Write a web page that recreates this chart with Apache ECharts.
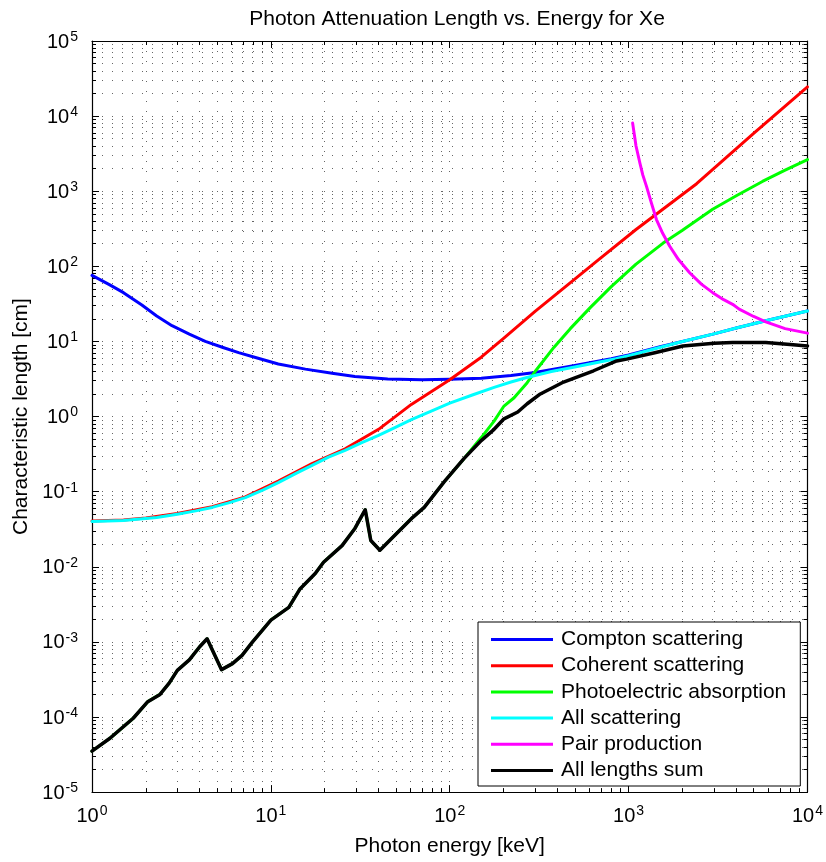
<!DOCTYPE html>
<html><head><meta charset="utf-8">
<script src="https://cdn.jsdelivr.net/npm/echarts@6/dist/echarts.min.js"></script>
<style>html,body{margin:0;padding:0;background:#fff}#c{width:826px;height:862px}</style>
</head><body><div id="c"></div>
<script>
// ---------- data ----------
const titleText = 'Photon Attenuation Length vs. Energy for Xe';
const xName = 'Photon energy [keV]';
const yName = 'Characteristic length [cm]';
const seriesNames = ['Compton scattering','Coherent scattering','Photoelectric absorption','All scattering','Pair production','All lengths sum'];
const seriesColors = ['#0000ff','#ff0000','#00ff00','#00ffff','#ff00ff','#000000'];

const xMajorTicks = [1, 10, 100, 1000, 10000];
const yMajorTicks = [1e-5, 1e-4, 1e-3, 1e-2, 1e-1, 1, 10, 100, 1000, 1e4, 1e5];
const minorMultipliers = [2, 3, 4, 5, 6, 7, 8, 9];

const comptonE = [1, 1.25, 1.5, 1.9, 2.3, 2.8, 3.5, 4.3, 5.4, 6.6, 8.2, 11, 15.6, 22, 29.5, 45, 70, 100, 150, 220, 300, 500, 800, 1000, 1500, 2000, 3000, 4000, 6000, 10000];
const comptonL = [75.7, 57.0, 44.6, 30.5, 21.8, 16.2, 12.5, 10.0, 8.30, 7.10, 6.11, 5.01, 4.28, 3.76, 3.42, 3.16, 3.08, 3.13, 3.24, 3.51, 3.86, 4.79, 5.89, 6.60, 8.5, 10.0, 12.6, 15.1, 19.1, 25.4];

const coherentE = [1, 1.5, 2, 3, 4.7, 7.2, 11, 17, 26, 40, 61, 100, 150, 200, 300, 500, 664, 1100, 2400, 5000, 10000];
const coherentL = [0.0407, 0.0420, 0.0447, 0.0513, 0.0631, 0.0851, 0.138, 0.237, 0.372, 0.676, 1.45, 3.09, 6.17, 11.0, 25.1, 67.6, 117, 309, 1259, 5890, 24500];

const photoE = [1, 1.26, 1.7, 2.05, 2.4, 2.7, 3.0, 3.5, 4.0, 4.4, 5.3, 6.1, 6.9, 7.9, 9.0, 10, 12.6, 14.5, 17.7, 19.7, 25, 29.5, 33.7, 36.2, 40.7, 47, 61, 72, 93, 120, 150, 177, 201, 229, 271, 300, 382, 472, 610, 800, 1100, 1560, 2000, 2950, 4000, 5600, 7500, 10000];
const photoL = [3.51e-5, 5.21e-5, 9.62e-5, 1.60e-4, 2.00e-4, 2.82e-4, 4.17e-4, 5.75e-4, 8.61e-4, 1.10e-3, 4.27e-4, 5.13e-4, 6.61e-4, 1.00e-3, 1.45e-3, 1.95e-3, 2.88e-3, 5.01e-3, 8.13e-3, 1.15e-2, 1.91e-2, 3.24e-2, 5.75e-2, 2.24e-2, 1.66e-2, 2.34e-2, 4.37e-2, 6.17e-2, 0.135, 0.275, 0.525, 0.871, 1.38, 1.78, 2.82, 3.98, 8.32, 14.8, 28.2, 53.7, 107, 204, 302, 575, 871, 1349, 1905, 2630];

const scatterE = [1, 1.5, 2.3, 3, 3.8, 4.7, 5.8, 7.2, 9, 11, 14, 17, 21, 26, 32, 40, 50, 61, 80, 100, 135, 177, 220, 270, 370, 500, 850, 1000, 1400, 2000, 3000, 4000, 6000, 10000];
const scatterL = [0.0401, 0.0412, 0.0452, 0.0501, 0.0555, 0.0617, 0.0708, 0.0832, 0.105, 0.132, 0.178, 0.224, 0.288, 0.355, 0.447, 0.562, 0.724, 0.912, 1.20, 1.51, 1.95, 2.45, 2.88, 3.31, 3.98, 4.57, 5.89, 6.46, 8.0, 10.0, 12.6, 15.1, 19.1, 25.4];

const pairE = [1053, 1100, 1156, 1200, 1259, 1340, 1431, 1550, 1698, 1900, 2193, 2550, 2953, 3400, 3815, 4150, 5000, 5845, 7500, 10000];
const pairL = [8072, 4000, 2377, 1650, 1161, 700, 420, 275, 185, 123, 82.2, 58, 44.6, 36, 31.2, 26.9, 21.5, 18.2, 14.8, 12.9];

const sumE = [1, 1.26, 1.7, 2.05, 2.4, 2.7, 3.0, 3.5, 4.0, 4.4, 5.3, 6.1, 6.9, 7.9, 9.0, 10, 12.6, 14.5, 17.7, 19.7, 25, 29.5, 33.7, 36.2, 40.7, 47, 61, 72, 93, 120, 150, 177, 201, 240, 271, 321, 433, 637, 857, 975, 1400, 2013, 3000, 3815, 5845, 8000, 10000];
const sumL = [3.51e-5, 5.21e-5, 9.62e-5, 1.60e-4, 2.00e-4, 2.82e-4, 4.17e-4, 5.75e-4, 8.61e-4, 1.10e-3, 4.27e-4, 5.13e-4, 6.61e-4, 1.00e-3, 1.45e-3, 1.95e-3, 2.88e-3, 5.01e-3, 8.13e-3, 1.15e-2, 1.91e-2, 3.24e-2, 5.75e-2, 2.24e-2, 1.66e-2, 2.34e-2, 4.37e-2, 6.17e-2, 0.135, 0.275, 0.479, 0.676, 0.933, 1.15, 1.48, 2.00, 2.88, 4.07, 5.50, 5.82, 7.08, 8.71, 9.44, 9.66, 9.66, 9.12, 8.71];

// ---------- helpers ----------
const FONT = "'Liberation Sans', Arial, Helvetica, sans-serif";
function zip(a, b) { return a.map((v, i) => [v, b[i]]); }
function minorTicks(majors) {
  const out = [];
  for (let i = 0; i < majors.length - 1; i++) for (const m of minorMultipliers) out.push(majors[i] * m);
  return out;
}
const xMinorTicks = minorTicks(xMajorTicks);
const yMinorTicks = minorTicks(yMajorTicks);
const gridLine = { show: true, lineStyle: { color: '#666', width: 1, type: [1, 9] } };
const rich = {
  b: { fontSize: 20, fontFamily: FONT, color: '#000', lineHeight: 22, verticalAlign: 'bottom' },
  s: { fontSize: 14, fontFamily: FONT, color: '#000', lineHeight: 14, verticalAlign: 'top', padding: [0, 0, 13, 1] }
};
function powLabel(v) {
  const e = Math.round(Math.log10(v));
  return '{b|10}{s|' + (e < 0 ? '-' + (-e) : e) + '}';
}
function axis(pos, min, max, majors, minors, isMajor, extra) {
  const a = {
    type: 'log', logBase: 10, min: min, max: max, position: pos,
    axisLine: { show: isMajor, onZero: false, lineStyle: { color: '#000', width: 1.2 } },
    axisTick: { show: true, inside: true, length: isMajor ? 7 : 4, customValues: isMajor ? majors : minors, lineStyle: { color: '#000', width: 1 } },
    axisLabel: { show: false },
    splitLine: { show: false }
  };
  return Object.assign(a, extra || {});
}
const nameStyle = { fontSize: 21, fontFamily: FONT, color: '#000' };

const xAxes = [
  axis('bottom', 1, 1e4, xMajorTicks, xMinorTicks, true, {
    axisLabel: { show: true, customValues: xMajorTicks, formatter: powLabel, margin: 12, rich: rich },
    splitLine: gridLine, name: xName, nameLocation: 'middle', nameGap: 42, nameTextStyle: nameStyle
  }),
  axis('bottom', 1, 1e4, xMajorTicks, xMinorTicks, false, { splitLine: gridLine }),
  axis('top', 1, 1e4, xMajorTicks, xMinorTicks, true),
  axis('top', 1, 1e4, xMajorTicks, xMinorTicks, false)
];
const yAxes = [
  axis('left', 1e-5, 1e5, yMajorTicks, yMinorTicks, true, {
    axisLabel: { show: true, customValues: yMajorTicks, formatter: powLabel, margin: 14, rich: rich },
    splitLine: gridLine, name: yName, nameLocation: 'middle', nameGap: 57, nameTextStyle: nameStyle
  }),
  axis('left', 1e-5, 1e5, yMajorTicks, yMinorTicks, false, { splitLine: gridLine }),
  axis('right', 1e-5, 1e5, yMajorTicks, yMinorTicks, true),
  axis('right', 1e-5, 1e5, yMajorTicks, yMinorTicks, false)
];

const dataSets = [zip(comptonE, comptonL), zip(coherentE, coherentL), zip(photoE, photoL), zip(scatterE, scatterL), zip(pairE, pairL), zip(sumE, sumL)];
const widths = [3, 3, 3, 3, 3, 3.5];

const series = dataSets.map((d, i) => ({
  name: seriesNames[i], type: 'line', data: d, xAxisIndex: 0, yAxisIndex: 0,
  showSymbol: false, symbol: 'none', smooth: false,
  color: seriesColors[i],
  itemStyle: { color: seriesColors[i] },
  lineStyle: { color: seriesColors[i], width: widths[i], join: 'round', cap: 'round' },
  emphasis: { disabled: true }, animation: false, clip: true
}));

const chart = echarts.init(document.getElementById('c'), null, { renderer: 'canvas' });
chart.setOption({
  backgroundColor: '#fff',
  animation: false,
  title: { text: titleText, left: 452, textAlign: 'center', top: 4, textStyle: { fontSize: 21, fontWeight: 'normal', fontFamily: FONT, color: '#000' } },
  grid: { left: 92, right: 14, top: 41, bottom: 68, containLabel: false },
  legend: {
    data: seriesNames, orient: 'vertical', left: 478, top: 622, icon: 'rect',
    itemWidth: 62, itemHeight: 3, itemGap: 5.2, selectedMode: false,
    padding: [7, 14, 5, 13], borderColor: '#000', borderWidth: 1, backgroundColor: '#fff',
    textStyle: { fontSize: 21, lineHeight: 21, fontFamily: FONT, color: '#000', padding: [0, 0, 0, 3] }
  },
  xAxis: xAxes,
  yAxis: yAxes,
  series: series
});
</script>
</body></html>
